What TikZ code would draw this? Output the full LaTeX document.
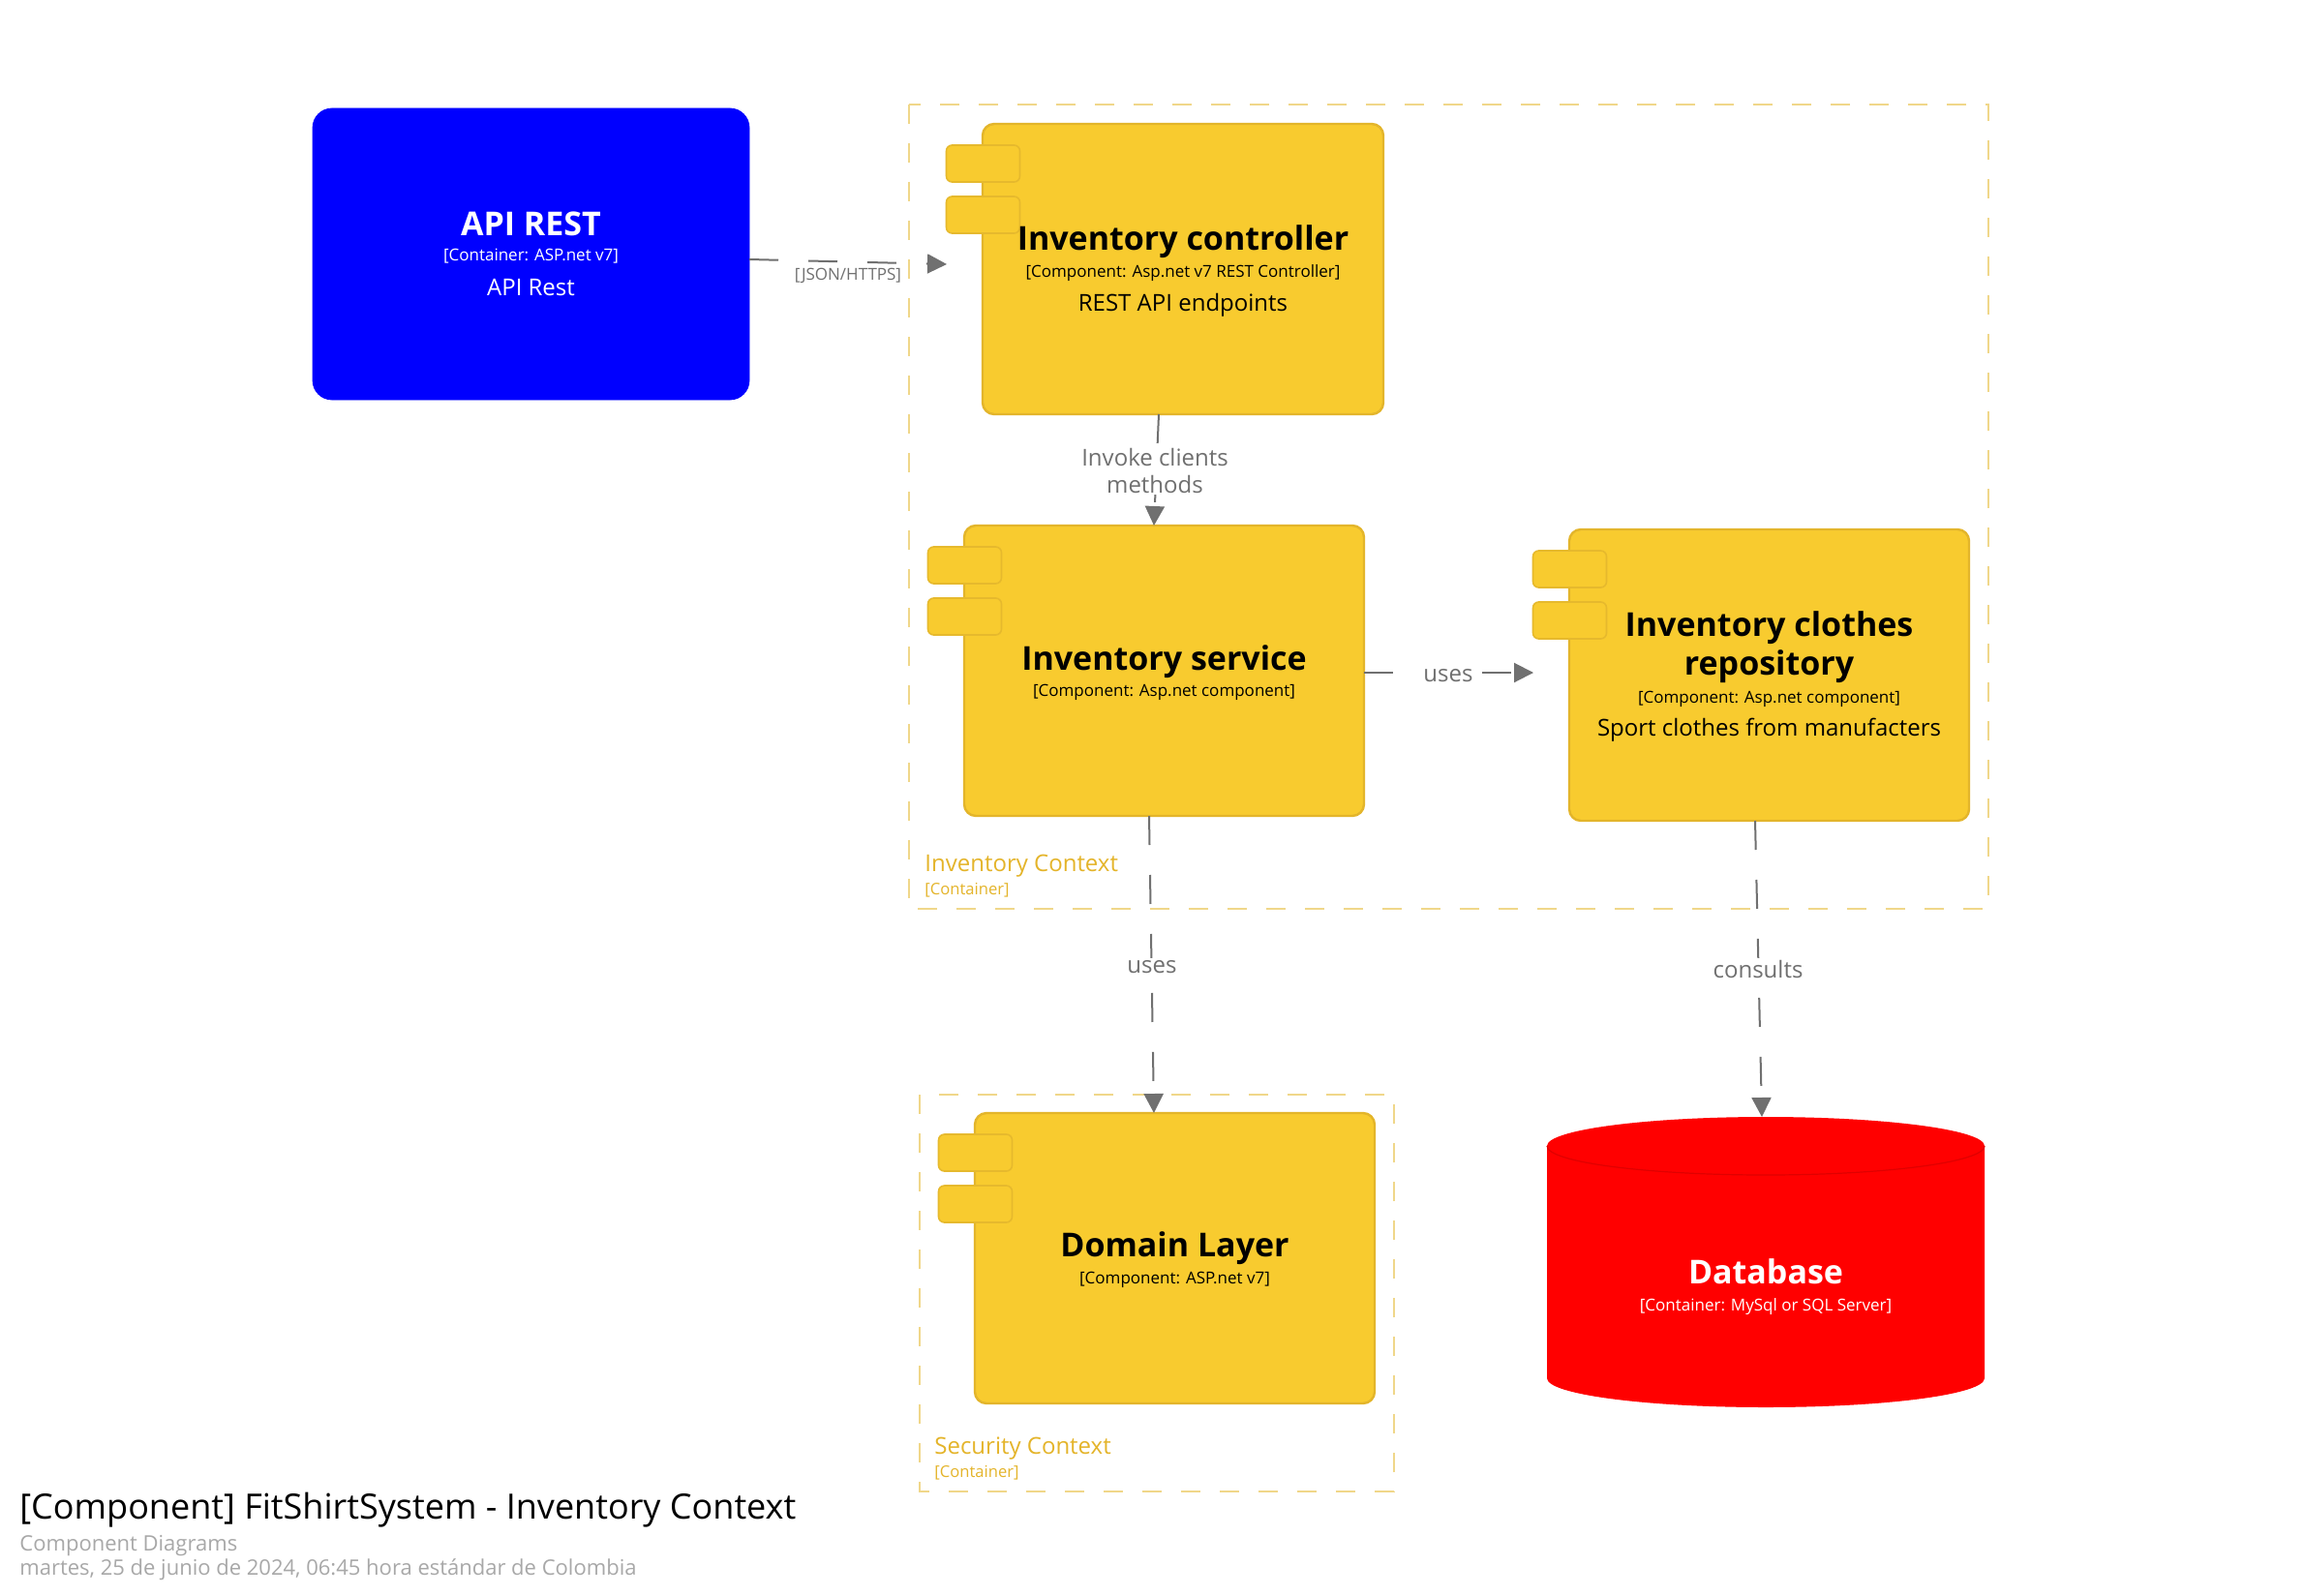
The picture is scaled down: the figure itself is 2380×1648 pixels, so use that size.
\documentclass[tikz,border=0pt]{standalone}
\usepackage{fontspec}
\setmainfont{Open Sans}
\usetikzlibrary{arrows.meta}

\definecolor{apiblue}{HTML}{0000FF}
\definecolor{dbred}{HTML}{FF0000}
\definecolor{dbedge}{HTML}{E00000}
\definecolor{compfill}{HTML}{F8CB2F}
\definecolor{compedge}{HTML}{E3B52B}
\definecolor{tabedge}{HTML}{E6B92D}
\definecolor{bndline}{HTML}{F0D78A}
\definecolor{bndtext}{HTML}{E4B42A}
\definecolor{relgray}{HTML}{707070}
\definecolor{subgray}{HTML}{A8A8A8}

% two connector tabs on the left side of a component box
\newcommand\comptabs[1]{%
  \node[tabbox] (#1-t1) at ([shift={(0.5,-41)}]#1.north west) {};
  \node[tabbox] (#1-t2) at ([shift={(0.5,-94)}]#1.north west) {};
}

\begin{document}
\begin{tikzpicture}[x=0.5pt,y=0.5pt,
  compbox/.style={draw=compedge, fill=compfill, line width=1.2pt, rounded corners=6pt,
    inner sep=0pt, outer sep=0pt},
  tabbox/.style={draw=tabedge, fill=compfill, line width=0.8pt, rounded corners=3pt,
    minimum width=38pt, minimum height=19pt, inner sep=0pt, outer sep=0pt},
  boundary/.style={draw=bndline, line width=1pt, dash pattern=on 10pt off 10pt},
  rel/.style={draw=relgray, line width=1pt, dash pattern=on 15pt off 15.5pt,
    -{Triangle[length=10pt,width=10pt]}},
  nametext/.style={font=\fontsize{17}{20}\selectfont\bfseries, anchor=base, inner sep=0pt},
  techtext/.style={font=\fontsize{8.5}{10}\selectfont, anchor=base, inner sep=0pt},
  desctext/.style={font=\fontsize{12}{14}\selectfont, anchor=base, inner sep=0pt},
  bndname/.style={font=\fontsize{12}{14}\selectfont, text=bndtext, anchor=base west, inner sep=0pt},
  bndtech/.style={font=\fontsize{8.3}{10}\selectfont, text=bndtext, anchor=base west, inner sep=0pt},
  rellabel/.style={font=\fontsize{12}{14}\selectfont, text=relgray, fill=white, inner sep=1pt},
  footer/.style={anchor=base west, inner sep=0pt}
]
% page
\fill[white] (0,0) rectangle (2380,-1648);
\useasboundingbox (0,0) rectangle (2380,-1648);

% container boundaries
\draw[boundary] (939,-108) rectangle (2054,-939);
\node[bndname] (inv-bnd-name) at (955,-900) {Inventory Context};
\node[bndtech] (inv-bnd-tech) at (955,-924) {[Container]};

\draw[boundary] (950,-1131) rectangle (1440,-1541);
\node[bndname] (sec-bnd-name) at (965,-1502) {Security Context};
\node[bndtech] (sec-bnd-tech) at (965,-1526) {[Container]};

% API REST container
\node[fill=apiblue, draw=apiblue, rounded corners=10pt, inner sep=0pt, outer sep=0pt,
  minimum width=225.5pt, minimum height=150.5pt] (api) at (548.5,-262.5) {};
\node[nametext, text=white] (api-name) at (548.5,-243) {API REST};
\node[techtext, text=white] (api-tech) at (548.5,-270) {[Container: ASP.net v7]};
\node[desctext, text=white] (api-desc) at (548.5,-305) {API Rest};

% Inventory controller
\node[compbox, minimum width=207pt, minimum height=150pt] (ctrl) at (1222,-278) {};
\comptabs{ctrl}
\node[nametext] (ctrl-name) at (1222,-258) {Inventory controller};
\node[techtext] (ctrl-tech) at (1222,-286) {[Component: Asp.net v7 REST Controller]};
\node[desctext] (ctrl-desc) at (1222,-321) {REST API endpoints};

% Inventory service
\node[compbox, minimum width=206.5pt, minimum height=150pt] (svc) at (1202.5,-693) {};
\comptabs{svc}
\node[nametext] (svc-name) at (1202.5,-692) {Inventory service};
\node[techtext] (svc-tech) at (1202.5,-719) {[Component: Asp.net component]};

% Inventory clothes repository
\node[compbox, minimum width=206.5pt, minimum height=150.5pt] (repo) at (1827.5,-697.5) {};
\comptabs{repo}
\node[nametext] (repo-name1) at (1827.5,-657) {Inventory clothes};
\node[nametext] (repo-name2) at (1827.5,-697) {repository};
\node[techtext] (repo-tech) at (1827.5,-726) {[Component: Asp.net component]};
\node[desctext] (repo-desc) at (1827.5,-760) {Sport clothes from manufacters};

% Domain layer
\node[compbox, minimum width=206.5pt, minimum height=150pt] (dom) at (1213.5,-1300) {};
\comptabs{dom}
\node[nametext] (dom-name) at (1213.5,-1298) {Domain Layer};
\node[techtext] (dom-tech) at (1213.5,-1326) {[Component: ASP.net v7]};

% Database cylinder
\node[inner sep=0pt, outer sep=0pt, minimum width=226pt, minimum height=150pt] (db) at (1824,-1304) {};
\fill[dbred] (1598,-1184) -- (1598,-1424) arc (180:360:113pt and 15pt)
  -- (2050,-1184) arc (0:180:113pt and 15pt) -- cycle;
\draw[dbedge, line width=0.6pt] (1598,-1184) arc (180:360:113pt and 15pt);
\node[nametext, text=white] (db-name) at (1824,-1326) {Database};
\node[techtext, text=white] (db-tech) at (1824,-1354) {[Container: MySql or SQL Server]};

% relationships
\draw[rel] ([yshift=-2.75pt]api.east) -- ([shift={(-37,5)}]ctrl.west);
\node[font=\fontsize{8.5}{10}\selectfont, text=relgray, anchor=base, inner sep=0pt]
  (lbl-json) at (876,-289) {[JSON/HTTPS]};

\draw[rel] ([xshift=-12.5pt]ctrl.south) -- ([xshift=-5.25pt]svc.north);
\node[rellabel, align=center] (lbl-invoke) at (1193,-486) {Invoke clients\\methods};

\draw[rel] ([yshift=-1pt]svc.east) -- ([shift={(-37,2.5)}]repo.west);
\node[rellabel, anchor=base] (lbl-uses1) at (1496,-704) {uses};

\draw[rel] ([xshift=-7.75pt]svc.south) -- ([xshift=-10.75pt]dom.north);
\node[rellabel, anchor=base] (lbl-uses2) at (1190,-1005) {uses};

\draw[rel] ([xshift=-7.25pt]repo.south) -- ([xshift=-2pt]db.north);
\node[rellabel, anchor=base] (lbl-consults) at (1816,-1010) {consults};

% diagram title block
\node[footer, font=\fontsize{18}{21}\selectfont] (title) at (20,-1569)
  {[Component] FitShirtSystem - Inventory Context};
\node[footer, font=\fontsize{11}{13}\selectfont, text=subgray] (subtitle) at (20,-1602)
  {Component Diagrams};
\node[footer, font=\fontsize{11}{13}\selectfont, text=subgray] (datestamp) at (20,-1627)
  {martes, 25 de junio de 2024, 06:45 hora estándar de Colombia};
\end{tikzpicture}
\end{document}
